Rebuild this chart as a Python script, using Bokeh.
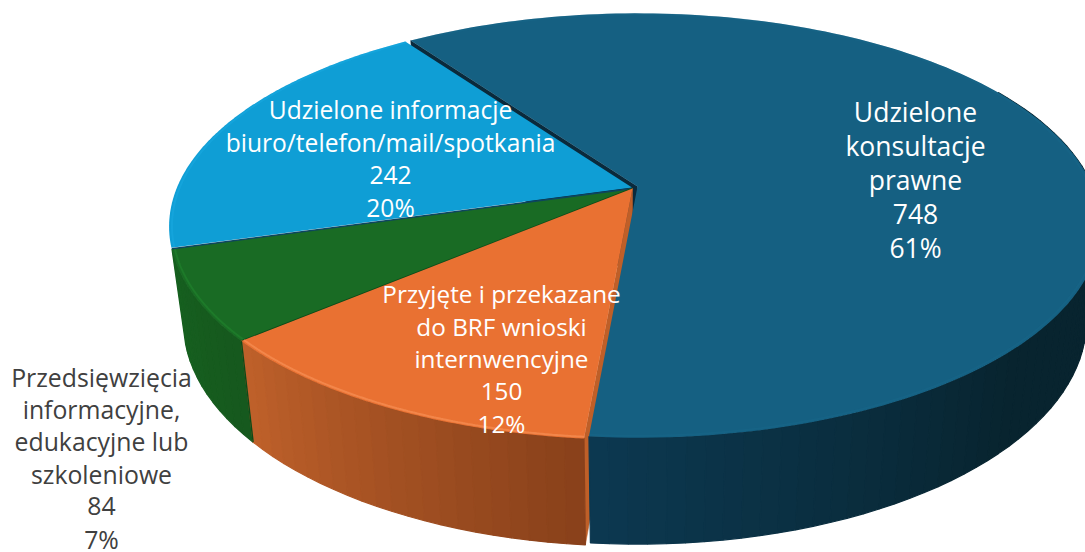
import numpy as np
from bokeh.plotting import figure
from bokeh.models import Range1d
from bokeh.core.properties import value
from bokeh.embed import file_html
from bokeh.resources import INLINE

# ---- data (clockwise from the cut at the upper left) ----
names = ["Udzielone konsultacje prawne",
         "Przyjęte i przekazane do BRF wnioski internwencyjne",
         "Przedsięwzięcia informacyjne, edukacyjne lub szkoleniowe",
         "Udzielone informacje biuro/telefon/mail/spotkania"]
counts = [748, 150, 84, 242]
shares = ["61%", "12%", "7%", "20%"]
label_lines = [
    ["Udzielone", "konsultacje", "prawne"],
    ["Przyjęte i przekazane", "do BRF wnioski", "internwencyjne"],
    ["Przedsięwzięcia", "informacyjne,", "edukacyjne lub", "szkoleniowe"],
    ["Udzielone informacje", "biuro/telefon/mail/spotkania"],
]
label_x = [915, 501, 101, 390]
label_y0 = [111, 293, 376, 109]
label_pitch = [34, 32.5, 32.4, 32.7]
label_size = ["26.5px", "24.3px", "24.8px", "24.6px"]
label_color = ["#FFFFFF", "#FFFFFF", "#404040", "#FFFFFF"]
top_colors = ["#156082", "#E97132", "#196B24", "#0F9ED5"]
rim_colors = ["#1A6A8E", "#F58C50", "#20802C", "#1FAEE8"]
rim_alpha = [0.3, 0.8, 0.7, 0.35]
wall_from = ["#0C3850", "#BE602A", "#16601F", "#0C6F98"]
wall_to = ["#08242F", "#87401A", "#16581E", "#0C6F98"]
offsets = [(5, -1.5), (0, 0.5), (0, 0.5), (-0.5, -0.5)]
start_angle = 125.0

# ---- perspective model of the disc ----
k, A, B, D, cx, cy, shrink = 0.184, 205.0, 455.0, 93.0, 632.0, 187.5, 0.03
FONT = "Open Sans"


def proj(t, r=1.0, z=0.0, off=(0, 0)):
    x, y = r * np.cos(t), r * np.sin(t)
    den = 1 + k * y
    s = 1 - shrink * z
    return cx + off[0] + B * x * s / den, cy + off[1] - A * y * s / den + z * D / den


def hexmix(a, b, f):
    ca = [int(a[i:i + 2], 16) for i in (1, 3, 5)]
    cb = [int(b[i:i + 2], 16) for i in (1, 3, 5)]
    return "#%02x%02x%02x" % tuple(int(round(u + (v - u) * f)) for u, v in zip(ca, cb))


total = sum(counts)
spans = [c / total * 2 * np.pi for c in counts]
edges = []
a = np.radians(start_angle)
for sp in spans:
    edges.append((a, a - sp))
    a -= sp

p = figure(width=1085, height=552, output_backend="svg", toolbar_location=None,
           x_range=Range1d(0, 1085), y_range=Range1d(552, 0),
           min_border=0, outline_line_color=None,
           background_fill_color="white", border_fill_color="white")
p.axis.visible = False
p.grid.visible = False


def radial_wall(i, t, color):
    off = offsets[i]
    a0 = proj(t, 0.0, 0, off)
    a1 = proj(t, 1.0, 0, off)
    b1 = proj(t, 1.0, 1, off)
    b0 = proj(t, 0.0, 1, off)
    p.patch([a0[0], a1[0], b1[0], b0[0]], [a0[1], a1[1], b1[1], b0[1]],
            fill_color=color, line_color=color, line_width=0.5)


def outer_wall(i):
    t0, t1 = edges[i]
    off = offsets[i]
    # only the part of the rim that faces the viewer
    t_hi = min(t0, t1 + np.radians(125)) if i == 0 else t0
    n = max(8, int(abs(t_hi - t1) / np.radians(2)))
    ts = np.linspace(t1, t_hi, n + 1)
    xs, ys, cs = [], [], []
    for j in range(n):
        ax, ay = proj(ts[j], 1, 0, off)
        bx, by = proj(ts[j + 1], 1, 0, off)
        cx_, cy_ = proj(ts[j + 1], 1, 1, off)
        dx, dy = proj(ts[j], 1, 1, off)
        xs.append([ax, bx, cx_, dx])
        ys.append([ay, by, cy_, dy])
        f = min(1.0, j / (n * 0.4 if i == 0 else n))
        cs.append(hexmix(wall_from[i], wall_to[i], f))
    p.patches(xs, ys, fill_color=cs, line_color=cs, line_width=1.2)


def top_face(i):
    t0, t1 = edges[i]
    off = offsets[i]
    ts = np.linspace(t0, t1, 160)
    ax, ay = proj(t0, 0.0, 0, off)
    rx, ry = proj(ts, 1, 0, off)
    p.patch([ax, *rx], [ay, *ry], fill_color=top_colors[i], line_color=None)
    hx, hy = proj(ts, 0.994, 0, off)
    p.line(hx, hy, line_color=rim_colors[i], line_width=2.0, line_alpha=rim_alpha[i])


# painter's order, back to front
radial_wall(0, edges[0][0], "#0A2A3C")
top_face(3)
outer_wall(2)
top_face(2)
for t, col in ((edges[2][1], "#0D4560"), (edges[2][0], "#0E4A18")):
    a0 = proj(t, 0.0, 0, offsets[2])
    a1 = proj(t, 1.0, 0, offsets[2])
    p.line([a0[0], a1[0]], [a0[1], a1[1]], line_color=col, line_width=1.6)
radial_wall(1, edges[1][0], "#BF5F28")
outer_wall(1)
top_face(1)
s0 = proj(edges[1][1], 1.0, 0, offsets[1])
s1 = proj(edges[1][1], 1.0, 1, offsets[1])
p.line([s0[0], s1[0]], [s0[1], s1[1]], line_color="#0E4A18", line_width=1.4)
outer_wall(0)
top_face(0)

# ---- labels ----
for i in range(4):
    lines = label_lines[i] + [str(counts[i]), shares[i]]
    ys = [label_y0[i] + label_pitch[i] * j for j in range(len(lines))]
    p.text([label_x[i]] * len(lines), ys, text=lines, text_color=label_color[i],
           text_font=value(FONT), text_font_size=label_size[i],
           text_align="center", text_baseline="middle")

open("out.html", "w").write(file_html(p, INLINE))
